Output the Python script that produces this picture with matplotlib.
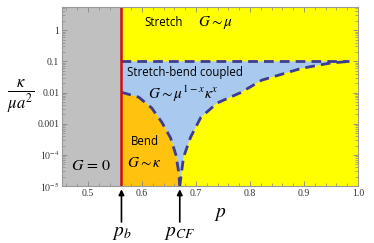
import numpy as np
import matplotlib
matplotlib.use("Agg")
import matplotlib.pyplot as plt
from matplotlib.ticker import FixedLocator, MultipleLocator

plt.rcParams['mathtext.fontset'] = 'stix'

# ---------------- Données
p_b = 0.562
p_cf = 0.670
kappa_coupled = 0.1          # limite haute de la zone couplée
p_coupled_end = 0.984

# Frontière bend / stretch-bend (p, kappa)
bend_p = [0.562, 0.594, 0.618, 0.637, 0.653, 0.663, 0.668, 0.670]
bend_k = [1.02e-2, 7.1e-3, 3.2e-3, 1.1e-3, 3.5e-4, 9.8e-5, 2.8e-5, 1.0e-5]

# Frontière stretch / stretch-bend (p, kappa)
stretch_p = [0.670, 0.672, 0.677, 0.690, 0.709, 0.739, 0.783, 0.822, 0.896, 0.947, 0.984]
stretch_k = [1.0e-5, 1.9e-5, 8.5e-5, 3.7e-4, 1.6e-3, 4.6e-3, 1.0e-2, 2.5e-2, 6.0e-2, 8.7e-2, 0.1]

x_ticks = [0.5, 0.6, 0.7, 0.8, 0.9, 1.0]
y_ticks = [1e-5, 1e-4, 1e-3, 1e-2, 1e-1, 1]
y_tick_labels = [r'$10^{-5}$', r'$10^{-4}$', '0.001', '0.01', '0.1', '1']

x_min, x_max = 0.452, 1.0
y_min, y_max = 1e-5, 5.5

# ---------------- Couleurs
gris = '#C0C0C0'
jaune = '#FFFF00'
orange = '#FFC20E'
bleu = '#A9C9EF'
rouge = '#CC1010'
tirets = '#3D3D8F'

fig = plt.figure(figsize=(3.74, 2.43), dpi=100)
ax = fig.add_axes([0.166, 0.234, 0.791, 0.737])
ax.set_yscale('log')
ax.set_xlim(x_min, x_max)
ax.set_ylim(y_min, y_max)

# -- Zones
ax.axvspan(x_min, p_b, color=gris, lw=0)
ax.axvspan(p_b, x_max, color=jaune, lw=0)

# zone couplée (bleue)
poly_p = [p_b, p_coupled_end] + stretch_p[::-1] + bend_p[::-1]
poly_k = [kappa_coupled, kappa_coupled] + stretch_k[::-1] + bend_k[::-1]
ax.fill(poly_p, poly_k, color=bleu, lw=0)

# zone bend (orange)
ax.fill([p_b] + bend_p + [p_cf], [y_min] + bend_k + [y_min], color=orange, lw=0)

# -- Frontières en tirets
ls = (0, (3.5, 2.2))
ax.plot([p_b, p_coupled_end], [kappa_coupled, kappa_coupled], color=tirets, lw=2, ls=ls)
ax.plot(stretch_p, stretch_k, color=tirets, lw=2, ls=ls)
ax.plot(bend_p, bend_k, color=tirets, lw=2, ls=ls)

# -- Ligne p_b
ax.axvline(p_b, color=rouge, lw=1.8)

# -- Textes des régions
txt = dict(family='Open Sans', fontsize=8.3, color='black')
ax.text(0.640, 1.8, 'Stretch', ha='center', va='center', **txt)
ax.text(0.737, 1.8, r'$G{\sim}\mu$', ha='center', va='center', fontsize=11)
ax.text(0.680, 0.045, 'Stretch-bend coupled', ha='center', va='center', **txt)
ax.text(0.676, 0.0088, r'$G{\sim}\mu^{1-x}\kappa^{x}$', ha='center', va='center', fontsize=11)
ax.text(0.605, 2.6e-4, 'Bend', ha='center', va='center', **txt)
ax.text(0.605, 5.8e-5, r'$G{\sim}\kappa$', ha='center', va='center', fontsize=11)
ax.text(0.506, 4.6e-5, r'$G\,=\,0$', ha='center', va='center', fontsize=11.5)

# -- Axes
ax.xaxis.set_major_locator(FixedLocator(x_ticks))
ax.xaxis.set_minor_locator(MultipleLocator(0.02))
ax.set_xticklabels(['0.5', '0.6', '0.7', '0.8', '0.9', '1.0'])
ax.yaxis.set_major_locator(FixedLocator(y_ticks))
ax.set_yticklabels(y_tick_labels)
ax.tick_params(which='both', direction='in', top=True, right=True, color='#888888',
               labelsize=7, labelcolor='#333333', pad=2)
ax.tick_params(which='major', length=3.5, width=0.6)
ax.tick_params(which='minor', length=2, width=0.5)
for lab in ax.get_xticklabels() + ax.get_yticklabels():
    lab.set_family('Liberation Serif')
for s in ax.spines.values():
    s.set_color('#999999')
    s.set_linewidth(0.8)

ax.set_xlabel(r'$p$', fontsize=14)
ax.xaxis.set_label_coords(0.535, -0.1)
fig.text(0.055, 0.6, r'$\frac{\kappa}{\mu a^2}$', fontsize=17, ha='center', va='center')

# -- Flèches p_b et p_CF
for p, lab in [(p_b, r'$p_b$'), (p_cf, r'$p_{CF}$')]:
    ax.annotate('', xy=(p, 10**-5.1), xytext=(p, 10**-6.15), xycoords='data',
                arrowprops=dict(arrowstyle='-|>', color='black', lw=1.2,
                                mutation_scale=8, shrinkA=0, shrinkB=0),
                annotation_clip=False)
    ax.text(p, 10**-6.5, lab, ha='center', va='center', fontsize=14, clip_on=False)

fig.savefig('out.png', dpi=100)
